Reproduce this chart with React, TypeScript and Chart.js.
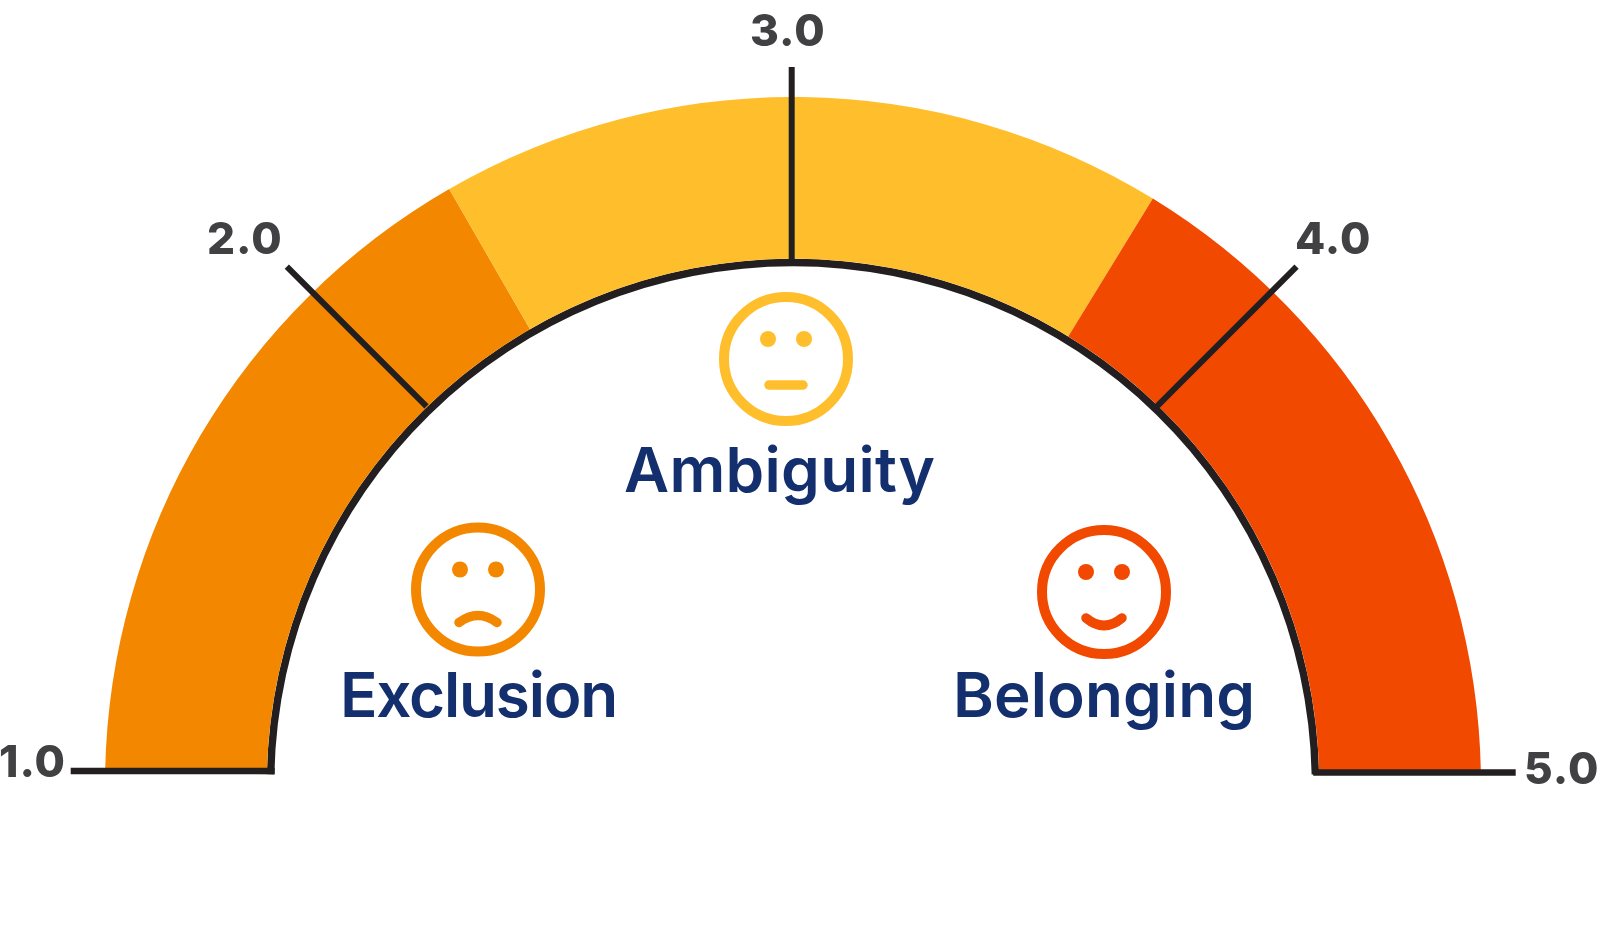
import React, { useEffect, useRef } from "react";
import { Chart, registerables } from "chart.js";

Chart.register(...registerables);

const categories = ["Exclusion", "Ambiguity", "Belonging"];
const segmentStarts = [1.0, 2.325, 3.71];
const segmentEnds = [2.325, 3.71, 5.0];
const segmentColors = ["#F38800", "#FFBF2D", "#F24900"];
const tickValues = [1, 2, 3, 4, 5];
const tickLabels = ["1.0", "2.0", "3.0", "4.0", "5.0"];
const moods = ["sad", "neutral", "happy"];

const INK = "#231F20";
const NAVY = "#142F6E";
const GRAY = "#414042";

const PIVOT = { x: 791.7, y: 771.5 };
const tickInnerR = [517, 516.5, 510, 516.5, 521.5];
const tickOuterR = [721, 714, 704.5, 714, 724];
const tickDy = [-0.5, 0, 0, 0, 1];
const tickWidth = [6.5, 6, 6, 6, 6.5];

const tickLabelPos = [
  { x: -1, y: 777 },
  { x: 207, y: 254 },
  { x: 750, y: 46 },
  { x: 1295, y: 254 },
  { x: 1524, y: 784 },
];
const facePos = [
  { cx: 478, cy: 589.5 },
  { cx: 786, cy: 359 },
  { cx: 1104, cy: 592 },
];
const namePos = [
  { x: 340, y: 717, spacing: "-1.2px" },
  { x: 624, y: 492, spacing: "0.3px" },
  { x: 953, y: 717, spacing: "0.1px" },
];

const drawFace = (ctx: CanvasRenderingContext2D, i: number) => {
  const { cx, cy } = facePos[i];
  const c = segmentColors[i];
  ctx.strokeStyle = c;
  ctx.fillStyle = c;
  ctx.lineWidth = 10;
  ctx.beginPath();
  ctx.arc(cx, cy, 62, 0, Math.PI * 2);
  ctx.stroke();
  for (const dx of [-18, 18]) {
    ctx.beginPath();
    ctx.arc(cx + dx, cy - 20, 8, 0, Math.PI * 2);
    ctx.fill();
  }
  ctx.lineCap = "round";
  ctx.lineWidth = 9.5;
  ctx.beginPath();
  if (moods[i] === "neutral") {
    ctx.moveTo(cx - 17, cy + 26);
    ctx.lineTo(cx + 17, cy + 26);
  } else if (moods[i] === "sad") {
    ctx.moveTo(cx - 19, cy + 33);
    ctx.quadraticCurveTo(cx, cy + 19, cx + 19, cy + 33);
  } else {
    ctx.moveTo(cx - 18, cy + 26);
    ctx.quadraticCurveTo(cx, cy + 41, cx + 18, cy + 26);
  }
  ctx.stroke();
  ctx.lineCap = "butt";
};

const gaugePlugin = {
  id: "gauge",
  afterDatasetsDraw(chart: any) {
    const ctx = chart.ctx as CanvasRenderingContext2D;
    ctx.save();
    ctx.strokeStyle = INK;
    tickValues.forEach((v, i) => {
      const t = Math.PI * (1 - (v - 1) / 4);
      ctx.lineWidth = tickWidth[i];
      ctx.beginPath();
      ctx.moveTo(PIVOT.x + Math.cos(t) * tickInnerR[i], PIVOT.y + tickDy[i] - Math.sin(t) * tickInnerR[i]);
      ctx.lineTo(PIVOT.x + Math.cos(t) * tickOuterR[i], PIVOT.y + tickDy[i] - Math.sin(t) * tickOuterR[i]);
      ctx.stroke();
    });
    ctx.fillStyle = GRAY;
    ctx.font = "800 44px Inter";
    ctx.textAlign = "left";
    ctx.textBaseline = "alphabetic";
    (ctx as any).letterSpacing = "1px";
    tickLabels.forEach((label, i) => {
      ctx.fillText(label, tickLabelPos[i].x, tickLabelPos[i].y);
    });
    (ctx as any).letterSpacing = "0px";
    categories.forEach((name, i) => {
      drawFace(ctx, i);
      ctx.fillStyle = NAVY;
      ctx.font = "600 62px Inter";
      (ctx as any).letterSpacing = namePos[i].spacing;
      ctx.fillText(name, namePos[i].x, namePos[i].y);
      (ctx as any).letterSpacing = "0px";
    });
    ctx.restore();
  },
};

export default function App() {
  const ref = useRef<HTMLCanvasElement>(null);
  useEffect(() => {
    const chart = new Chart(ref.current!, {
      type: "doughnut",
      data: {
        labels: categories,
        datasets: [
          {
            data: segmentEnds.map((e, i) => e - segmentStarts[i]),
            backgroundColor: segmentColors,
            borderWidth: 0,
            weight: 162,
          },
          {
            data: [segmentEnds[segmentEnds.length - 1] - segmentStarts[0]],
            backgroundColor: [INK],
            borderWidth: 0,
            weight: 7.5,
          },
        ],
      } as any,
      options: {
        responsive: false,
        animation: false,
        devicePixelRatio: 1,
        rotation: -88.83,
        circumference: 177.66,
        radius: 688,
        cutout: "75.4%",
        layout: { padding: { left: 0, right: 14, top: 0, bottom: 53.6 } },
        plugins: { legend: { display: false }, tooltip: { enabled: false } },
      },
      plugins: [gaugePlugin],
    });
    return () => chart.destroy();
  }, []);
  return (
    <div style={{ position: "absolute", left: 0, top: 0, width: 1600, height: 925, background: "#fff" }}>
      <canvas ref={ref} width={1600} height={925} style={{ display: "block" }} />
    </div>
  );
}
